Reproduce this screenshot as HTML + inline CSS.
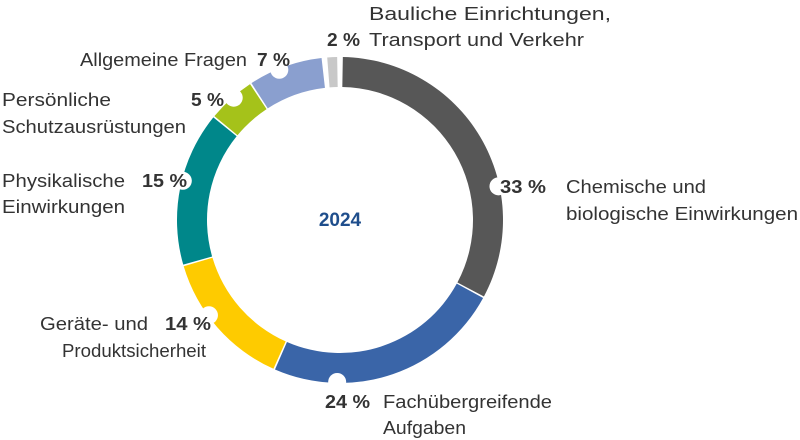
<!DOCTYPE html>
<html><head><meta charset="utf-8"><style>
html,body{margin:0;padding:0;background:#fff;}
svg{display:block;}
text{font-family:"Liberation Sans",sans-serif;font-size:18px;fill:#333;}
.b{font-weight:bold;}
</style></head><body>
<svg id="s" width="800" height="440" viewBox="0 0 800 440">
<g id="ring"></g>
<g id="notch" fill="#fff"></g>
<text x="340" y="226" text-anchor="middle" class="b" style="fill:#1f4e8c;font-size:19px">2024</text>
<text x="500" y="193" class="b" textLength="46" lengthAdjust="spacingAndGlyphs">33 %</text>
<text x="566" y="193" textLength="140" lengthAdjust="spacingAndGlyphs">Chemische und</text>
<text x="566" y="220" textLength="232" lengthAdjust="spacingAndGlyphs">biologische Einwirkungen</text>
<text x="325" y="408" class="b" textLength="45" lengthAdjust="spacingAndGlyphs">24 %</text>
<text x="383" y="408" textLength="169" lengthAdjust="spacingAndGlyphs">Fachübergreifende</text>
<text x="383" y="434" textLength="83" lengthAdjust="spacingAndGlyphs">Aufgaben</text>
<text x="40" y="330" textLength="108" lengthAdjust="spacingAndGlyphs">Geräte- und</text>
<text x="165" y="330" class="b" textLength="46" lengthAdjust="spacingAndGlyphs">14 %</text>
<text x="62" y="357" textLength="144" lengthAdjust="spacingAndGlyphs">Produktsicherheit</text>
<text x="2" y="187" textLength="123" lengthAdjust="spacingAndGlyphs">Physikalische</text>
<text x="142" y="187" class="b" textLength="45" lengthAdjust="spacingAndGlyphs">15 %</text>
<text x="2" y="213" textLength="123" lengthAdjust="spacingAndGlyphs">Einwirkungen</text>
<text x="2" y="106" textLength="109" lengthAdjust="spacingAndGlyphs">Persönliche</text>
<text x="191" y="106" class="b" textLength="33" lengthAdjust="spacingAndGlyphs">5 %</text>
<text x="2" y="133" textLength="184" lengthAdjust="spacingAndGlyphs">Schutzausrüstungen</text>
<text x="80" y="66" textLength="167" lengthAdjust="spacingAndGlyphs">Allgemeine Fragen</text>
<text x="257" y="66" class="b" textLength="33" lengthAdjust="spacingAndGlyphs">7 %</text>
<text x="327" y="46" class="b" textLength="33" lengthAdjust="spacingAndGlyphs">2 %</text>
<text x="369" y="20" textLength="242" lengthAdjust="spacingAndGlyphs">Bauliche Einrichtungen,</text>
<text x="369" y="46" textLength="215" lengthAdjust="spacingAndGlyphs">Transport und Verkehr</text>
</svg>
<script>
(function(){
var cx=340,cy=220,R=163,r=133;
var segs=[[1,118,"#575757"],[118.6,203.5,"#3a65a8"],[204.1,253.5,"#fecb00"],[254.1,309,"#00878a"],[309.6,326.5,"#a5c21a"],[327.1,353.5,"#8a9fcf"],[355.5,359,"#c8c8c8"]];
function p(a,rad){var t=a*Math.PI/180;return (cx+rad*Math.sin(t)).toFixed(2)+","+(cy-rad*Math.cos(t)).toFixed(2);}
var h="";
segs.forEach(function(s){var lg=(s[1]-s[0])>180?1:0;
h+='<path fill="'+s[2]+'" d="M'+p(s[0],R)+' A'+R+','+R+' 0 '+lg+' 1 '+p(s[1],R)+' L'+p(s[1],r)+' A'+r+','+r+' 0 '+lg+' 0 '+p(s[0],r)+' Z"/>';});
document.getElementById("ring").innerHTML=h;
var n="";[78,181,234,284,319,338].forEach(function(a){var q=p(a,R-1).split(",");n+='<circle cx="'+q[0]+'" cy="'+q[1]+'" r="9"/>';});
document.getElementById("notch").innerHTML=n;
})();
</script>
</body></html>
